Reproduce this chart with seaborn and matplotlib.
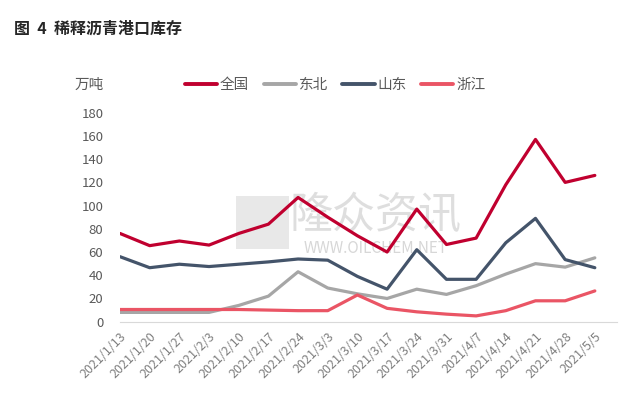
import numpy as np
import pandas as pd
import matplotlib
matplotlib.use("Agg")
import matplotlib.pyplot as plt
import seaborn as sns

# data (万吨)
dates = ["2021/1/13", "2021/1/20", "2021/1/27", "2021/2/3", "2021/2/10",
         "2021/2/17", "2021/2/24", "2021/3/3", "2021/3/10", "2021/3/17",
         "2021/3/24", "2021/3/31", "2021/4/7", "2021/4/14", "2021/4/21",
         "2021/4/28", "2021/5/5"]
quanguo = [76, 65.5, 69.5, 66, 76, 84, 107, 90, 74, 60, 97, 66.5, 72, 118, 157, 120, 126]
dongbei = [8, 8, 8, 8, 14, 22, 43, 29, 24, 20, 28, 23.5, 31, 41, 50, 47, 55]
shandong = [56, 46.5, 49.5, 47.5, 49.5, 51.5, 54, 53, 39, 28, 62, 36.5, 36.5, 68, 89, 53.5, 46.5]
zhejiang = [10.5, 10.5, 10.5, 10.5, 10.5, 10, 9.5, 9.5, 23, 11.5, 8.5, 6.5, 5, 9.5, 18, 18, 26.5]

series = ["全国", "东北", "山东", "浙江"]
colors = ["#C0002F", "#A6A6A6", "#44546A", "#EA5565"]

df = pd.DataFrame({"x": np.arange(len(dates)), "全国": quanguo, "东北": dongbei,
                   "山东": shandong, "浙江": zhejiang})
long = df.melt(id_vars="x", var_name="region", value_name="value")

sns.set_style("white")
plt.rcParams['font.family'] = ['Noto Sans CJK SC', 'DejaVu Sans']

fig = plt.figure(figsize=(6.3, 3.95), dpi=100)
ax = fig.add_axes([0.1905, 0.1856, 0.789, 0.529])

sns.lineplot(data=long, x="x", y="value", hue="region", hue_order=series,
             palette=colors, linewidth=2.3, ax=ax, legend=False)

# watermark
ax.add_patch(plt.Rectangle((3.9, 63), 1.8, 45, color="#E8E8E8", zorder=0, lw=0))
ax.text(8.6, 91, "隆众资讯", fontsize=31, color="#D9D9D9", ha="center", va="center",
        zorder=0, alpha=0.85)
ax.text(8.6, 63, "WWW.OILCHEM.NET", fontsize=11, color="#D0D0D0", ha="center",
        va="center", zorder=0, alpha=0.85)

ax.set_xlim(0, 16.75)
ax.set_ylim(0, 180)
ax.set_yticks(np.arange(0, 181, 20))
ax.set_xticks(np.arange(len(dates)))
ax.set_xticklabels(dates, rotation=45, ha="right", rotation_mode="anchor",
                   fontsize=9, color="#7F7F7F")
ax.set_xticks(list(np.arange(len(dates))) + [16.75], minor=True)
ax.tick_params(axis="x", which="major", length=0, pad=6)
ax.tick_params(axis="x", which="minor", length=4, color="#D9D9D9", width=0.8)
ax.tick_params(axis="y", length=0, labelsize=9.5, labelcolor="#595959", pad=12)
ax.set_xlabel("")
ax.set_ylabel("")
for s in ["top", "right", "left"]:
    ax.spines[s].set_visible(False)
ax.spines["bottom"].set_color("#D9D9D9")
ax.spines["bottom"].set_linewidth(0.8)

# legend
handles = [plt.Line2D([], [], color=c, linewidth=2.8) for c in colors]
fig.legend(handles, series, loc="center", bbox_to_anchor=(0.532, 0.785), ncol=4,
           frameon=False, fontsize=10.5, handlelength=2.2, handletextpad=0.2,
           columnspacing=1.0, labelcolor="#595959")

fig.text(0.119, 0.785, "万吨", fontsize=10.5, color="#595959", ha="left", va="center")
fig.text(0.022, 0.928, "图  4  稀释沥青港口库存", fontsize=11.5, color="#262626",
         ha="left", va="center", fontweight="bold")

fig.savefig("out.png", dpi=100)
